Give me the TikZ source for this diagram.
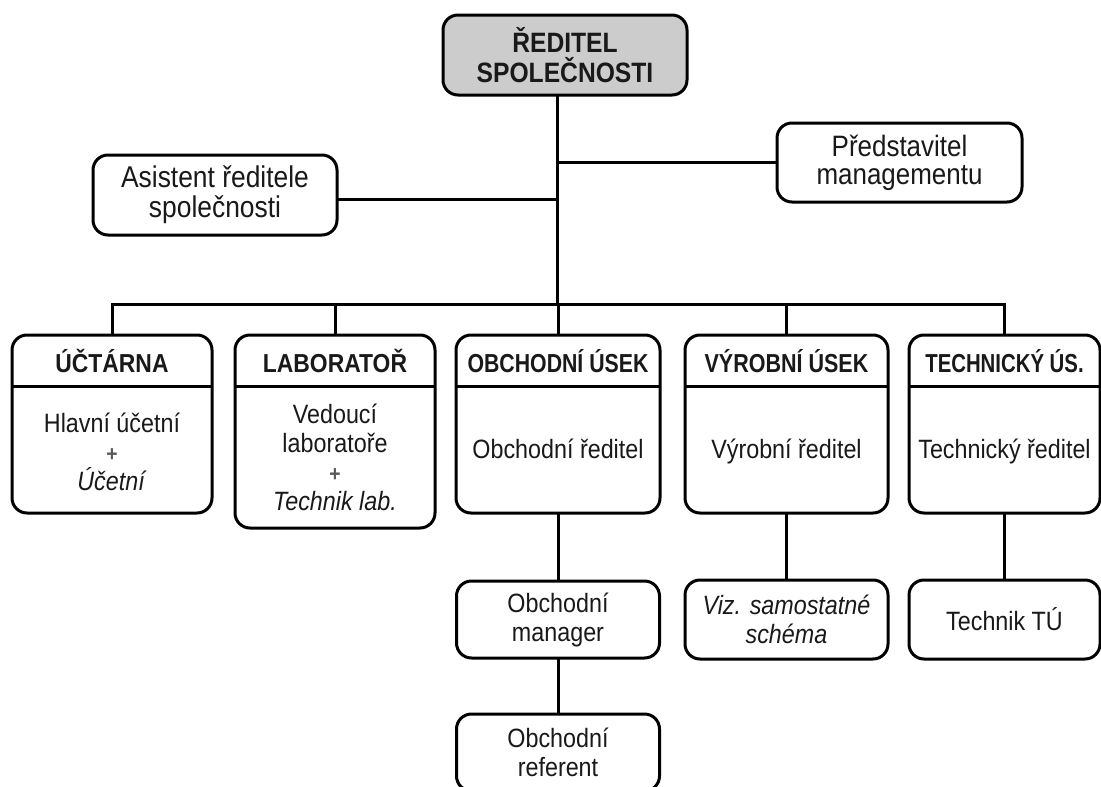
\documentclass[tikz,border=0pt]{standalone}
\usepackage{fontspec}
\setmainfont{Liberation Sans}[FakeStretch=0.88]
\newcommand{\plussign}{{\fontsize{22}{22}\selectfont\bfseries\color{black!65}+}}
\begin{document}
\begin{tikzpicture}[x=1pt,y=-1pt,
  box/.style={draw=black, line width=3pt, rounded corners=15pt, inner sep=0pt,
              outer sep=0pt, fill=white, text=black!90, align=center},
  link/.style={draw=black, line width=3pt},
  txt/.style={text=black!90, align=center, inner sep=0pt},
  bodyfont/.style={font=\fontsize{26.5}{29}\selectfont},
  body/.style={txt, bodyfont},
  head/.style={txt, font=\fontsize{26}{29}\selectfont\bfseries, anchor=base},
  dept/.style={box, minimum width=#1},
  topbox/.style={box, fill=black!20, minimum width=244pt, minimum height=80pt,
                 font=\fontsize{28}{30}\selectfont\bfseries},
  sidebox/.style={box, minimum width=244pt, minimum height=80pt},
  lowbox/.style={box, bodyfont, minimum width=203pt, minimum height=78pt}
]
\clip (0,0) rectangle (1101,787);
\fill[white] (0,0) rectangle (1101,787);

% director and staff units
\node[topbox] (dir) at (565,55) {ŘEDITEL\\SPOLEČNOSTI};
\node[sidebox, font=\fontsize{30}{30}\selectfont] (asist) at (215,195)
  {Asistent ředitele\\společnosti};
\node[sidebox, minimum width=245pt, minimum height=79pt,
      font=\fontsize{29.5}{28}\selectfont] (pred) at (899.5,162.5)
  {Představitel\\managementu};

% departments
\node[dept=200pt, minimum height=178pt] (uct) at (112,424) {};
\node[dept=200pt, minimum height=193pt] (lab) at (335,431.5) {};
\node[dept=204pt, minimum height=178pt] (obch) at (558,424) {};
\node[dept=203pt, minimum height=178pt] (vyr) at (786.5,424) {};
\node[dept=191pt, minimum height=178pt] (tec) at (1004.5,424) {};

\coordinate (hdiv) at (0,386);
\foreach \d in {uct,lab,obch,vyr,tec}
  \draw[link] (\d.west |- hdiv) -- (\d.east |- hdiv);

\node[head] (uct-h) at (112,372) {ÚČTÁRNA};
\node[head] (lab-h) at (335,372) {LABORATOŘ};
\node[head] (obch-h) at (558,372) {\scalebox{0.93}[1]{OBCHODNÍ ÚSEK}};
\node[head] (vyr-h) at (786.5,372) {\scalebox{0.94}[1]{VÝROBNÍ ÚSEK}};
\node[head] (tec-h) at (1004.5,372) {\scalebox{0.89}[1]{TECHNICKÝ ÚS.}};

\node[body] (uct-b) at (112,452) {Hlavní účetní\\\plussign\\\textit{Účetní}};
\node[body] (lab-b) at (335,457) {Vedoucí\\laboratoře\\\plussign\\\textit{Technik lab.}};
\node[body, anchor=base] (obch-b) at (558,458) {Obchodní ředitel};
\node[body, anchor=base] (vyr-b) at (786.5,458) {Výrobní ředitel};
\node[body, anchor=base] (tec-b) at (1004.5,458) {Technický ředitel};

% lower levels
\node[lowbox, minimum height=77pt] (mgr) at (558,619.5) {Obchodní\\manager};
\node[lowbox, minimum height=77pt] (ref) at (558,752.5) {Obchodní\\referent};
\node[lowbox, minimum height=79pt] (viz) at (786.5,619.5)
  {\textit{Viz. samostatné}\\\textit{schéma}};
\node[lowbox, minimum width=191pt, minimum height=79pt] (ttu) at (1004.5,619.5)
  {Technik TÚ};

% connectors
\coordinate (bus) at (557,304);
\draw[link] (dir.south -| bus) -- (bus);
\draw[link] ([yshift=-4pt]asist.east) -- ([yshift=-4pt]asist.east -| bus);
\draw[link] (pred.west) -- (pred.west -| bus);
\draw[link] (uct.north) -- (uct.north |- bus) -- (tec.north |- bus) -- (tec.north);
\foreach \d in {lab,obch,vyr}
  \draw[link] (\d.north) -- (\d.north |- bus);
\draw[link] (obch.south) -- (mgr.north);
\draw[link] (mgr.south) -- (ref.north);
\draw[link] (vyr.south) -- (viz.north);
\draw[link] (tec.south) -- (ttu.north);
\end{tikzpicture}
\end{document}
